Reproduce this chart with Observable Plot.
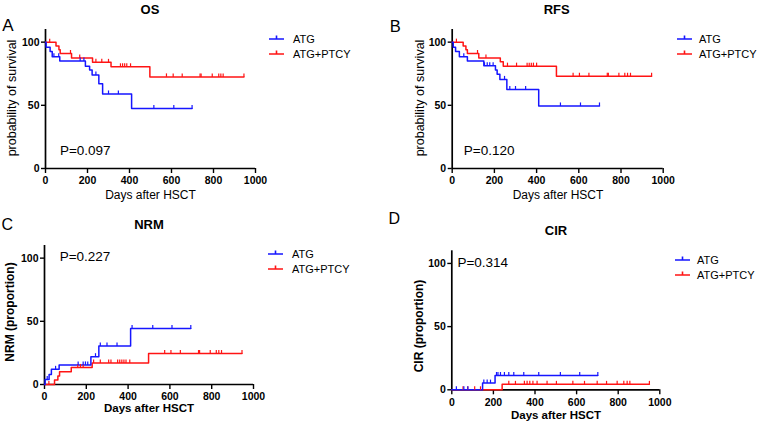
<!DOCTYPE html>
<html><head><meta charset="utf-8">
<script src="https://cdn.jsdelivr.net/npm/d3@7"></script>
<script src="https://cdn.jsdelivr.net/npm/@observablehq/plot@0.6"></script>
<style>
body{margin:0;background:#fff;}
#root{position:relative;width:760px;height:425px;overflow:hidden;font-family:"Liberation Sans",Arial,sans-serif;color:#000;background:#fff;}
.panel{position:absolute;}
.t{position:absolute;white-space:nowrap;line-height:1;}
.c{transform:translate(-50%,-50%);}
.l{transform:translate(0,-50%);}
.r{transform:translate(-50%,-50%) rotate(-90deg);}
.lg{position:absolute;overflow:visible;}
</style></head><body><div id="root"></div>
<script>
const BLUE = "#1616ff", RED = "#ff1414";
const seriesNames = ["ATG", "ATG+PTCY"];
const xTicks = [0, 200, 400, 600, 800, 1000];
const yTicks = [0, 50, 100];

// ---- OS ----
const osAtgTimes  = [0, 3, 22, 32, 68, 190, 210, 222, 254, 272, 410];
const osAtgValues = [100, 96, 92.5, 88.5, 85, 81, 78, 74, 67, 59, 47.5];
const osAtgEnd = 698;
const osAtgCensored = [40, 63, 165, 183, 240, 300, 347, 516, 611, 698];
const osPtcyTimes  = [0, 50, 64, 70, 124, 224, 312, 497];
const osPtcyValues = [100, 97, 94, 91, 87.5, 84, 80.5, 72.5];
const osPtcyEnd = 945;
const osPtcyCensored = [20, 119, 163, 240, 268, 300, 357, 367, 377, 387, 405, 576, 608, 651, 736, 741, 794, 825, 835, 846, 945];

// ---- RFS ----
const rfsAtgTimes  = [0, 5, 16, 34, 72, 150, 205, 213, 226, 259, 410];
const rfsAtgValues = [100, 96, 92.5, 88.5, 85, 81.3, 78, 74.5, 70.5, 62.5, 49.5];
const rfsAtgEnd = 698;
const rfsAtgCensored = [55, 153, 166, 178, 194, 248, 273, 300, 348, 513, 608, 698];
const rfsPtcyTimes  = [0, 52, 65, 72, 126, 228, 242, 494];
const rfsPtcyValues = [100, 97, 94, 91, 87.5, 84.5, 81, 73];
const rfsPtcyEnd = 945;
const rfsPtcyCensored = [20, 120, 160, 262, 305, 355, 365, 375, 385, 400, 573, 603, 648, 735, 740, 790, 818, 831, 845, 945];

// ---- NRM ----
const nrmAtgTimes  = [0, 3, 22, 33, 70, 222, 260, 412];
const nrmAtgValues = [0, 4, 8, 12, 15.5, 22, 30.5, 44.3];
const nrmAtgEnd = 700;
const nrmAtgCensored = [13, 53, 161, 185, 196, 207, 244, 267, 299, 347, 419, 518, 610, 700];
const nrmPtcyTimes  = [0, 48, 64, 72, 128, 228, 498];
const nrmPtcyValues = [0, 3.5, 6.7, 10, 13.5, 17, 24.5];
const nrmPtcyEnd = 945;
const nrmPtcyCensored = [21, 159, 172, 185, 235, 267, 307, 318, 350, 360, 370, 380, 390, 408, 575, 605, 650, 737, 742, 793, 822, 834, 847, 945];

// ---- CIR ----
const cirAtgTimes  = [0, 148, 208];
const cirAtgValues = [0, 5.3, 11.3];
const cirAtgEnd = 702;
const cirAtgCensored = [22, 58, 77, 154, 170, 186, 215, 222, 234, 253, 274, 298, 346, 418, 522, 615, 702];
const cirPtcyTimes  = [0, 242];
const cirPtcyValues = [0, 4.3];
const cirPtcyEnd = 950;
const cirPtcyCensored = [54, 77, 110, 138, 274, 306, 349, 362, 375, 390, 410, 458, 503, 582, 638, 699, 744, 795, 827, 843, 856, 950];

function stepData(times, values, end) {
  const d = times.map((t, i) => ({t, v: values[i]}));
  d.push({t: end, v: values[values.length - 1]});
  return d;
}
function censorData(times, values, cens) {
  return cens.map(c => {
    let v = values[0];
    for (let i = 0; i < times.length; i++) if (times[i] <= c) v = values[i];
    return {t: c, v};
  });
}
const tickSymbol = {draw(ctx, size) { const h = Math.sqrt(size / Math.PI); ctx.moveTo(0, 0); ctx.lineTo(0, -h); }};

const panels = [
  {left:0, top:0, h:212, ml:45, mr:125, mt:29, mb:44,
   atg:[osAtgTimes, osAtgValues, osAtgEnd, osAtgCensored], ptcy:[osPtcyTimes, osPtcyValues, osPtcyEnd, osPtcyCensored],
   letter:"A", lx:7.8, ly:25, lfs:17, title:"OS", tx:150, ty:8.5,
   p:"P=0.097", px:85.3, py:150.8,
   leg:{x:269, tx:293, y1:39, y2:54},
   ylab:"probability of survival", ylx:11.7, yly:98, ylfs:12.5, ylw:"normal",
   xlab:"Days after HSCT", xlx:150.5, xly:195, xlfs:12, xlw:"normal"},
  {left:380, top:0, h:212, ml:71.7, mr:97.3, mt:29, mb:44,
   atg:[rfsAtgTimes, rfsAtgValues, rfsAtgEnd, rfsAtgCensored], ptcy:[rfsPtcyTimes, rfsPtcyValues, rfsPtcyEnd, rfsPtcyCensored],
   letter:"B", lx:395.3, ly:25.8, lfs:16.5, title:"RFS", tx:556.7, ty:8.5,
   p:"P=0.120", px:489.2, py:151.2,
   leg:{x:677, tx:699, y1:39, y2:54},
   ylab:"probability of survival", ylx:420, yly:98, ylfs:12.5, ylw:"normal",
   xlab:"Days after HSCT", xlx:558, xly:195, xlfs:12, xlw:"normal"},
  {left:0, top:212, h:212, ml:44, mr:127, mt:33, mb:40,
   atg:[nrmAtgTimes, nrmAtgValues, nrmAtgEnd, nrmAtgCensored], ptcy:[nrmPtcyTimes, nrmPtcyValues, nrmPtcyEnd, nrmPtcyCensored],
   letter:"C", lx:7.2, ly:225.3, lfs:16, title:"NRM", tx:149, ty:223.7,
   p:"P=0.227", px:85, py:257.3,
   leg:{x:268, tx:292, y1:254.3, y2:269.3},
   ylab:"NRM (proportion)", ylx:10, yly:311.5, ylfs:12, ylw:"bold",
   xlab:"Days after HSCT", xlx:149, xly:408.7, xlfs:11.5, xlw:"bold"},
  {left:380, top:212, h:213, ml:71.3, mr:100.7, mt:38.3, mb:35.7,
   atg:[cirAtgTimes, cirAtgValues, cirAtgEnd, cirAtgCensored], ptcy:[cirPtcyTimes, cirPtcyValues, cirPtcyEnd, cirPtcyCensored],
   letter:"D", lx:394.2, ly:219, lfs:16, title:"CIR", tx:556, ty:230.3,
   p:"P=0.314", px:482.8, py:262.8,
   leg:{x:675, tx:697, y1:259.7, y2:274.7},
   ylab:"CIR (proportion)", ylx:419.3, yly:325.8, ylfs:12, ylw:"bold",
   xlab:"Days after HSCT", xlx:556, xly:415.7, xlfs:11.5, xlw:"bold"}
];

const root = document.getElementById("root");
function addText(txt, x, y, cls, fs, fw) {
  const s = document.createElement("div");
  s.className = "t " + cls;
  s.textContent = txt;
  s.style.left = x + "px"; s.style.top = y + "px";
  s.style.fontSize = fs + "px"; s.style.fontWeight = fw;
  root.appendChild(s);
}
function addLegendLine(x, y, color) {
  const NS = "http://www.w3.org/2000/svg";
  const s = document.createElementNS(NS, "svg");
  s.setAttribute("class", "lg");
  s.setAttribute("width", "16"); s.setAttribute("height", "8");
  s.style.left = x + "px"; s.style.top = Math.round(y - 5) + "px";
  const l = document.createElementNS(NS, "path");
  l.setAttribute("d", "M0,5H15M7.5,5V1.5");
  l.setAttribute("stroke", color); l.setAttribute("stroke-width", "1.6"); l.setAttribute("fill", "none");
  s.appendChild(l);
  root.appendChild(s);
}

panels.forEach(p => {
  const [aT, aV, aE, aC] = p.atg;
  const [rT, rV, rE, rC] = p.ptcy;
  const svg = Plot.plot({
    width: 380, height: p.h,
    marginLeft: p.ml, marginRight: p.mr, marginTop: p.mt, marginBottom: p.mb,
    style: {fontFamily: '"Liberation Sans",Arial,sans-serif', fontSize: "10.5px", fontWeight: "bold", color: "#000", background: "transparent", overflow: "visible"},
    x: {domain: [0, 1000]},
    y: {domain: [0, 110]},
    marks: [
      Plot.axisX({ticks: xTicks, tickFormat: d => String(d), tickSize: 5, tickPadding: 3.5, label: null, strokeWidth: 1.4}),
      Plot.axisY({ticks: yTicks, tickFormat: d => String(d), tickSize: 4, tickPadding: 2, label: null, strokeWidth: 1.4}),
      Plot.ruleX([0], {stroke: "#000", strokeWidth: 1.7}),
      Plot.ruleY([0], {stroke: "#000", strokeWidth: 1.7}),
      Plot.line(stepData(rT, rV, rE), {x: "t", y: "v", curve: "step-after", stroke: RED, strokeWidth: 1.5}),
      Plot.line(stepData(aT, aV, aE), {x: "t", y: "v", curve: "step-after", stroke: BLUE, strokeWidth: 1.5}),
      Plot.dot(censorData(rT, rV, rC), {x: "t", y: "v", symbol: tickSymbol, r: 3.5, stroke: RED, fill: "none", strokeWidth: 1.2}),
      Plot.dot(censorData(aT, aV, aC), {x: "t", y: "v", symbol: tickSymbol, r: 3.5, stroke: BLUE, fill: "none", strokeWidth: 1.2})
    ]
  });
  const wrap = document.createElement("div");
  wrap.className = "panel";
  wrap.style.left = p.left + "px"; wrap.style.top = p.top + "px";
  wrap.appendChild(svg);
  root.appendChild(wrap);

  addText(p.letter, p.lx, p.ly, "c", p.lfs, "normal");
  addText(p.title, p.tx, p.ty, "c", 13, "bold");
  addText(p.p, p.px, p.py, "c", 13.5, "normal");
  addText(p.ylab, p.ylx, p.yly, "r", p.ylfs, p.ylw);
  addText(p.xlab, p.xlx, p.xly, "c", p.xlfs, p.xlw);
  addLegendLine(p.leg.x, p.leg.y1, BLUE);
  addLegendLine(p.leg.x, p.leg.y2, RED);
  addText(seriesNames[0], p.leg.tx, p.leg.y1, "l", 11, "normal");
  addText(seriesNames[1], p.leg.tx, p.leg.y2, "l", 11, "normal");
});
</script></body></html>
